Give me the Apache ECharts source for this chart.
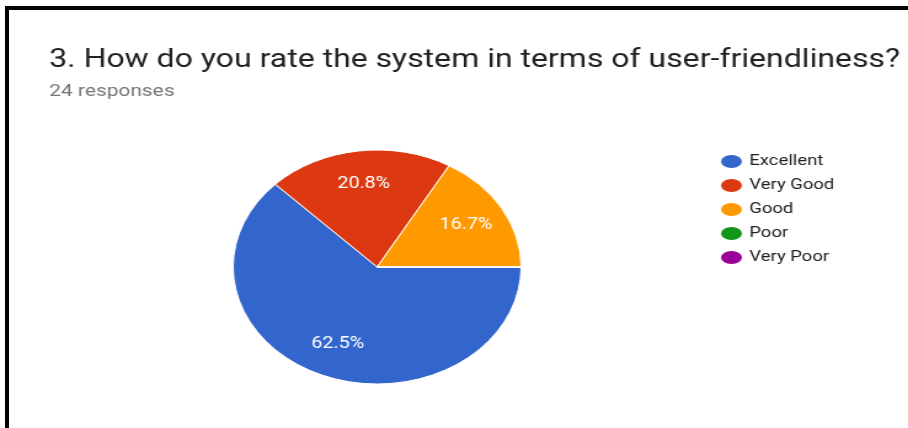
<!DOCTYPE html>
<html>
<head>
<meta charset="utf-8">
<script src="https://cdn.jsdelivr.net/npm/echarts@6/dist/echarts.min.js"></script>
<style>
html,body{margin:0;padding:0;background:#fff;width:908px;height:428px;overflow:hidden;}
#wrap{position:absolute;left:0;top:0;width:908px;height:428px;}
#c{position:absolute;left:0;top:0;width:738px;height:428px;transform:scaleX(1.2304);transform-origin:0 0;}
#frame{position:absolute;left:5px;top:6px;width:920px;height:440px;border-left:4px solid #000;border-top:4px solid #000;box-sizing:border-box;pointer-events:none;}
</style>
</head>
<body>
<div id="wrap"><div id="c"></div><div id="frame"></div></div>
<script>
const titleText = "3. How do you rate the system in terms of user-friendliness?";
const subtitleText = "24 responses";
const categories = ["Excellent", "Very Good", "Good", "Poor", "Very Poor"];
const counts = [15, 5, 4, 0, 0];
const colors = ["#3366cc", "#dc3912", "#ff9900", "#109618", "#990099"];

const data = categories.map((n, i) => ({ name: n, value: counts[i], itemStyle: { color: colors[i] } }));
const chart = echarts.init(document.getElementById('c'), null, { renderer: 'canvas' });
const center = [306.5, 267];
chart.setOption({
  animation: false,
  title: [
    { text: titleText, left: 35, top: 42, textStyle: { fontFamily: 'Roboto', fontSize: 26, fontWeight: 'normal', color: '#202124' } },
    { text: subtitleText, left: 35, top: 78, textStyle: { fontFamily: 'Roboto', fontSize: 17, fontWeight: 'normal', color: '#757575' } }
  ],
  legend: {
    orient: 'vertical', left: 579, top: 148, itemWidth: 19, itemHeight: 15, itemGap: 7,
    icon: 'path://M0,7 A9.5,7 0 1,0 19,7 A9.5,7 0 1,0 0,7 Z',
    symbolKeepAspect: false,
    data: categories,
    textStyle: { fontFamily: 'Roboto', fontSize: 15, lineHeight: 15, color: '#222' }
  },
  series: [
    {
      type: 'pie', center: center, radius: 117, startAngle: 0, clockwise: true,
      percentPrecision: 1, stillShowZeroSum: false,
      itemStyle: { borderColor: '#fff', borderWidth: 1 },
      label: { show: false }, labelLine: { show: false },
      emphasis: { disabled: true },
      data: data
    },
    {
      type: 'pie', center: center, radius: [44, 117], startAngle: 0, clockwise: true,
      percentPrecision: 1, silent: true,
      itemStyle: { color: 'rgba(0,0,0,0)', borderWidth: 0 },
      label: {
        show: true, position: 'inside', color: '#fff', fontFamily: 'Roboto', fontSize: 16,
        formatter: p => p.value > 0 ? p.percent.toFixed(1) + '%' : ''
      },
      labelLine: { show: false },
      emphasis: { disabled: true },
      data: categories.map((n, i) => ({ name: n, value: counts[i], itemStyle: { color: 'rgba(0,0,0,0)' } }))
    }
  ]
});
</script>
</body>
</html>
